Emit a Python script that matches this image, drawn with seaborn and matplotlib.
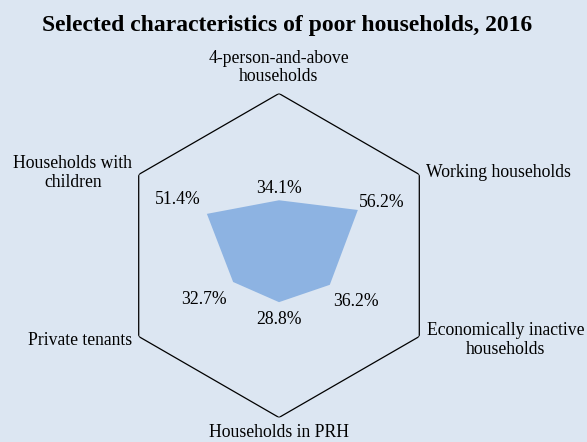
import numpy as np
import matplotlib
matplotlib.use("Agg")
import matplotlib.pyplot as plt
import seaborn as sns

# Share of poor households with each characteristic (%), clockwise from the top
categories = [
    "4-person-and-above\nhouseholds",
    "Working households",
    "Economically inactive\nhouseholds",
    "Households in PRH",
    "Private tenants",
    "Households with\nchildren",
]
values = [34.1, 56.2, 36.2, 28.8, 32.7, 51.4]
value_labels = [f"{v:.1f}%" for v in values]
title = "Selected characteristics of poor households, 2016"
r_max = 100

BG = "#dce6f2"
FILL = "#8db3e2"

sns.set_theme(style="white")
plt.rcParams["font.family"] = ["Liberation Serif", "DejaVu Serif"]

fig = plt.figure(figsize=(5.87, 4.42), dpi=100)
fig.patch.set_facecolor(BG)

W, H = 587, 442
cx, cy, R = 279, 255.5, 162.0
ax = fig.add_axes([(cx - R) / W, (H - cy - R) / H, 2 * R / W, 2 * R / H],
                  projection="polar")
ax.set_facecolor("none")
ax.set_theta_zero_location("N")
ax.set_theta_direction(-1)
ax.set_ylim(0, r_max)
ax.grid(False)
ax.spines["polar"].set_visible(False)
ax.set_xticks([])
ax.set_yticks([])

n = len(categories)
angles = np.arange(n) * 2 * np.pi / n
closed = np.append(angles, angles[0])

# hexagonal frame at the outer ring
ax.plot(closed, [r_max] * (n + 1), color="black", lw=0.9)

# data polygon
ax.fill(closed, np.append(values, values[0]), color=FILL, lw=0)

fs = 12.7

# value labels just outside each vertex (offsets in pixels)
value_offsets = [(0, 12), (24, 7), (26, -17), (0, -17.5), (-29, -17.5), (-29, 14)]
for a, v, lab, off in zip(angles, values, value_labels, value_offsets):
    ax.annotate(lab, xy=(a, v), xytext=off, textcoords="offset pixels",
                ha="center", va="center", fontsize=fs, color="black")

# category labels around the frame: (offset in pixels, ha, va)
cat_style = [
    ((0, 26), "center", "center"),
    ((7, 2), "left", "center"),
    ((86, -3.5), "center", "center"),
    ((0, -19.5), "center", "baseline"),
    ((-6.5, -3.7), "right", "center"),
    ((-66, 1.5), "center", "center"),
]
for a, lab, (off, ha, va) in zip(angles, categories, cat_style):
    ax.annotate(lab, xy=(a, r_max), xytext=off, textcoords="offset pixels",
                ha=ha, va=va, multialignment="center",
                fontsize=fs, color="black", linespacing=1.1,
                annotation_clip=False)

fig.text(287 / W, 1 - 25 / H, title, ha="center", va="center",
         fontsize=17, fontweight="bold", color="black")

fig.savefig("out.png", dpi=100, facecolor=BG)
